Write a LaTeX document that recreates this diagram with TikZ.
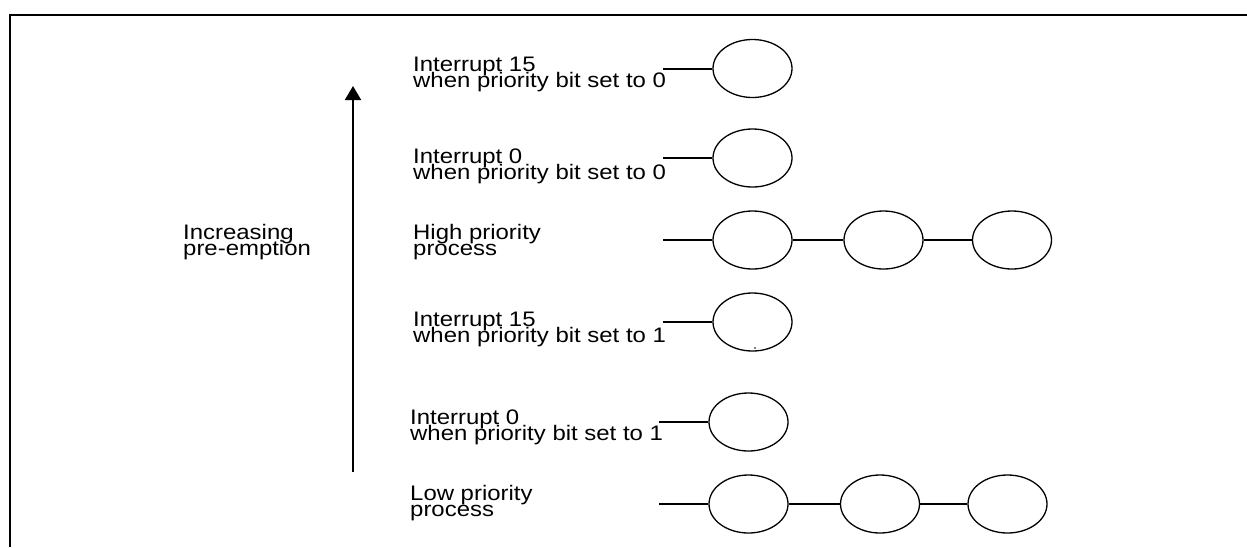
\documentclass[tikz,border=0pt]{standalone}
\usepackage{fontspec}
\setmainfont{Liberation Sans}[FakeStretch=1.14]
\usetikzlibrary{arrows.meta,shapes.geometric}
\begin{document}
\begin{tikzpicture}[x=1pt,y=-1pt,
  lbl/.style={inner sep=0pt,anchor=base west,font=\fontsize{21}{16}\selectfont},
  proc/.style={draw,ellipse,line width=1.3pt,minimum width=79pt,minimum height=58pt,inner sep=0pt},
  link/.style={line width=2pt}]
\useasboundingbox (0,0) rectangle (1247,547);
% open frame: top and left edges only
\draw[line width=2.4pt] (10,547) -- (10,15) -- (1247,15);

% pre-emption axis
\coordinate (axbot) at (353,472);
\coordinate (axtop) at (353,86);
\draw[line width=2pt,-{Triangle[length=14pt,width=16pt]}] (axbot) -- (axtop);
\node[lbl] (inc1) at (183,239.5) {Increasing};
\node[lbl] (inc2) at (183,255.5) {pre-emption};

% Interrupt 15, priority bit 0
\node[lbl] (t1a) at (413,71) {Interrupt 15};
\node[lbl] (t1b) at (413,87) {when priority bit set to 0};
\coordinate (s1) at (663,68.5);
\node[proc] (e1) at (752.5,68.5) {};
\draw[link] (s1) -- (e1);

% Interrupt 0, priority bit 0
\node[lbl] (t2a) at (413,163) {Interrupt 0};
\node[lbl] (t2b) at (413,179) {when priority bit set to 0};
\coordinate (s2) at (663,158);
\node[proc] (e2) at (752.5,158) {};
\draw[link] (s2) -- (e2);

% high priority process
\node[lbl] (t3a) at (413,239.5) {High priority};
\node[lbl] (t3b) at (413,255.5) {process};
\coordinate (s3) at (663,240);
\node[proc] (h1) at (752.5,240) {};
\node[proc] (h2) at (883.5,240) {};
\node[proc] (h3) at (1012,240) {};
\draw[link] (s3) -- (h1) -- (h2) -- (h3);

% Interrupt 15, priority bit 1
\node[lbl] (t4a) at (413,326) {Interrupt 15};
\node[lbl] (t4b) at (413,342) {when priority bit set to 1};
\coordinate (s4) at (663,322);
\node[proc] (e4) at (752.5,322) {};
\draw[link] (s4) -- (e4);
\fill (755,348) circle (0.9pt);

% Interrupt 0, priority bit 1
\node[lbl] (t5a) at (410,424) {Interrupt 0};
\node[lbl] (t5b) at (410,440) {when priority bit set to 1};
\coordinate (s5) at (659,422);
\node[proc] (e5) at (748.5,422) {};
\draw[link] (s5) -- (e5);

% low priority process
\node[lbl] (t6a) at (410,500) {Low priority};
\node[lbl] (t6b) at (410,516) {process};
\coordinate (s6) at (659,504);
\node[proc] (l1) at (748.5,504) {};
\node[proc] (l2) at (880,504) {};
\node[proc] (l3) at (1007.5,504) {};
\draw[link] (s6) -- (l1) -- (l2) -- (l3);
\end{tikzpicture}
\end{document}
